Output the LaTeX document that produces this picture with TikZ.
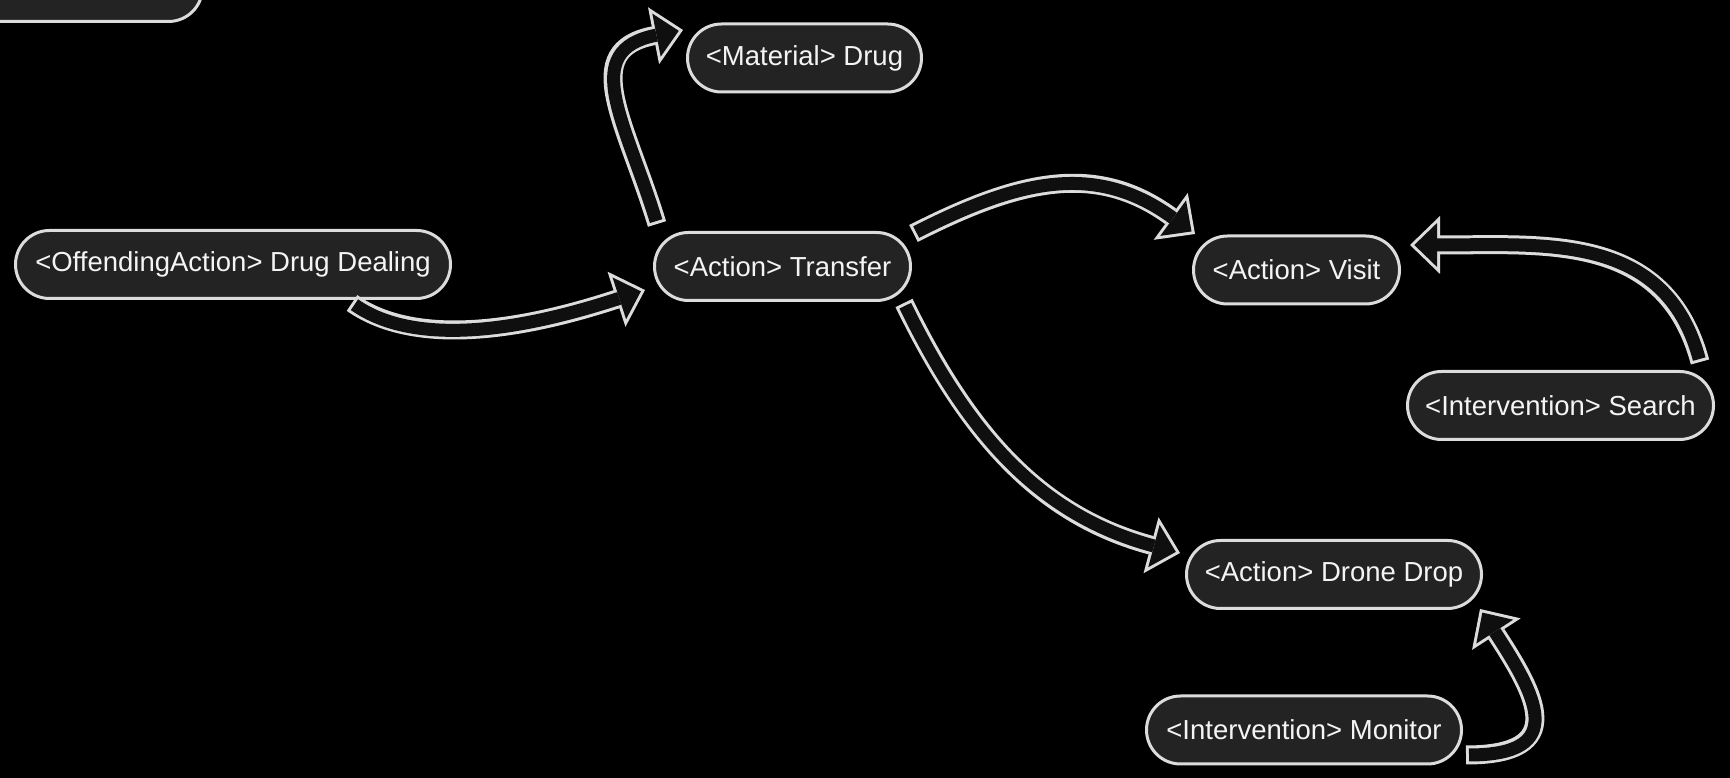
\documentclass[tikz,border=0pt]{standalone}
\usepackage{fontspec}
\setmainfont{Liberation Sans}
\usetikzlibrary{arrows.meta,shapes.misc}

\definecolor{canvas}{HTML}{000000}
\definecolor{pillfill}{HTML}{232323}
\definecolor{rim}{HTML}{DCDCDC}
\definecolor{shaft}{HTML}{0F0F0F}
\definecolor{labeltext}{HTML}{F4F4F4}

\tikzset{
  pill/.style={rounded rectangle, draw=rim, line width=3pt, fill=pillfill,
    text=labeltext, minimum height=68pt, inner sep=0pt,
    font=\fontsize{27.5}{33}\selectfont},
  % hollow block arrow: light outer stroke, dark inner stroke on top
  fatarrow/.style={draw=rim, line width=19pt,
    -{Triangle[length=30pt,width=58pt,line width=0pt]},
    postaction={draw=shaft, line width=13pt,
      -{Triangle[length=22.7pt,width=43.9pt,line width=0pt]},
      shorten <=3pt, shorten >=4.3pt}}
}

\begin{document}
\begin{tikzpicture}[x=1pt,y=1pt]
  \useasboundingbox (0,0) rectangle (1730,778);
  \fill[canvas] (0,0) rectangle (1730,778);
  \clip (0,0) rectangle (1730,778);

  % nodes
  \node[pill, minimum width=351pt] (hdr) at (27,790.5) {};
  \node[pill, minimum width=435pt] (dd)  at (233,513.5) {<OffendingAction> Drug Dealing};
  \node[pill, minimum width=234pt] (mat) at (804.5,720) {<Material> Drug};
  \node[pill, minimum width=256pt] (tr)  at (782.5,511.5) {<Action> Transfer};
  \node[pill, minimum width=206pt] (vis) at (1296.5,508) {<Action> Visit};
  \node[pill, minimum width=306pt] (sea) at (1560.5,372.5) {<Intervention> Search};
  \node[pill, minimum width=295pt] (dro) at (1334,203.5) {<Action> Drone Drop};
  \node[pill, minimum width=315pt] (mon) at (1304,48) {<Intervention> Monitor};

  % connectors
  \draw[fatarrow] ([xshift=119pt,yshift=-3pt]dd.south)
    to[out=-35,in=198,looseness=0.8] ([xshift=-8pt,yshift=-23.5pt]tr.west);
  \draw[fatarrow] ([xshift=-125.5pt,yshift=7pt]tr.north)
    to[out=107,in=191,looseness=1.4] ([xshift=-3pt,yshift=28pt]mat.west);
  \draw[fatarrow] ([xshift=131pt,yshift=-2.5pt]tr.north)
    to[out=27,in=144,looseness=1.1] ([xshift=-101.5pt,yshift=0.5pt]vis.north);
  \draw[fatarrow] ([xshift=121.5pt,yshift=-1pt]tr.south)
    to[out=-64,in=165] ([xshift=-5pt,yshift=21.5pt]dro.west);
  \draw[fatarrow] ([xshift=139.5pt,yshift=8pt]sea.north)
    to[out=105,in=0,looseness=1.1] ([xshift=9pt,yshift=25pt]vis.east);
  \draw[fatarrow] ([xshift=3pt,yshift=-25pt]mon.east)
    to[out=0,in=-57,looseness=1.8] ([xshift=146pt,yshift=1pt]dro.south);
\end{tikzpicture}
\end{document}
